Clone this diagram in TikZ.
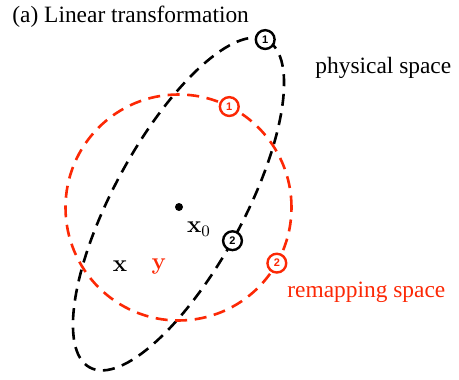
\documentclass[tikz,border=0pt]{standalone}
\usepackage[no-math]{fontspec}
\setmainfont{Liberation Serif}
\setsansfont{Liberation Sans}
\definecolor{remapred}{RGB}{252,40,5}
\begin{document}
\begin{tikzpicture}[x=0.5pt,y=-0.5pt,
  dashcurve/.style={line width=1.3pt, dash pattern=on 6pt off 3.8pt},
  marker/.style={circle, draw, fill=white, line width=1.2pt, minimum size=9.4pt, inner sep=0pt,
    font=\fontsize{5.5}{6}\selectfont\sffamily\bfseries},
  lbl/.style={font=\fontsize{11.7}{14}\selectfont}]
\useasboundingbox (0,0) rectangle (459,379);
\node[lbl, anchor=base west, inner sep=0pt] (title) at (12,23) {(a) Linear transformation};
% physical space ellipse
\begin{scope}[shift={(178.5,204)}, rotate=61.5]
  \draw[dashcurve] (0,0) ellipse [x radius=93pt, y radius=32.5pt];
  \node[marker] (b1) at (2:93pt and 32.5pt) {1};
  \node[marker] (b2) at (268:93pt and 32.5pt) {2};
\end{scope}
% remapping space circle
\begin{scope}[shift={(178.5,207.5)}]
  \draw[dashcurve, remapred] (0,0) circle [radius=56.5pt];
  \node[marker, draw=remapred, text=remapred] (r1) at (63.3:56.5pt) {1};
  \node[marker, draw=remapred, text=remapred] (r2) at (-29.5:56.5pt) {2};
\end{scope}
\node[circle, fill, inner sep=0pt, minimum size=4pt] (x0dot) at (179,207) {};
\node[lbl] (lx0) at (199,229) {$\mathbf{x}_0$};
\node[lbl] (lx) at (120,266) {$\mathbf{x}$};
\node[lbl, text=remapred] (ly) at (159,266) {$\mathbf{y}$};
\node[lbl, anchor=base west, inner sep=0pt] (phys) at (315,74) {physical space};
\node[lbl, anchor=base west, inner sep=0pt, text=remapred] (remap) at (287,297) {remapping space};
\end{tikzpicture}
\end{document}
